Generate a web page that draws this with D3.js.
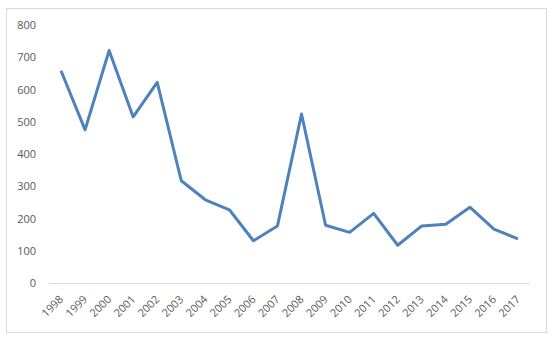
<!DOCTYPE html>
<html>
<head>
<meta charset="utf-8">
<script src="https://cdn.jsdelivr.net/npm/d3@7"></script>
<style>
  body { margin: 0; background: #fff; }
  text { font-family: "Open Sans", "Liberation Sans", sans-serif; fill: #595959; }
</style>
</head>
<body>
<svg id="chart"></svg>
<script>
// chart data
const years = ["1998", "1999", "2000", "2001", "2002", "2003", "2004", "2005", "2006", "2007",
  "2008", "2009", "2010", "2011", "2012", "2013", "2014", "2015", "2016", "2017"];
const values = [658, 475, 721, 515, 622, 317, 258, 227, 131, 177,
  524, 179, 157, 216, 117, 177, 182, 235, 167, 137];
const yTicks = [0, 100, 200, 300, 400, 500, 600, 700, 800];

const W = 552, H = 343;
const margin = { top: 25, right: 22, bottom: 60, left: 49 },
  width = 530 - margin.left,
  height = 283 - margin.top;

const svg = d3.select("#chart")
  .attr("width", W)
  .attr("height", H);

// outer frame
svg.append("rect")
  .attr("x", 6.5).attr("y", 8.5)
  .attr("width", 540).attr("height", 324)
  .attr("fill", "#fff")
  .attr("stroke", "#d9d9d9")
  .attr("stroke-width", 1);

const g = svg.append("g")
  .attr("transform", "translate(" + margin.left + "," + margin.top + ")");

const x = d3.scaleBand().domain(years).range([0, width]);
const y = d3.scaleLinear().domain([0, 800]).range([height, 0]);

// Y axis labels
const yAxis = d3.axisLeft(y).tickValues(yTicks).tickSize(0).tickPadding(13);
g.append("g")
  .call(yAxis)
  .call(a => a.select(".domain").remove())
  .selectAll("text")
  .attr("font-size", 11)
  .style("fill", "#595959");

// baseline
g.append("line")
  .attr("x1", 0).attr("x2", width)
  .attr("y1", y(0) + 0.5).attr("y2", y(0) + 0.5)
  .attr("stroke", "#d9d9d9");

// X axis labels
const xAxis = d3.axisBottom(x).tickSize(0).tickPadding(0);
g.append("g")
  .attr("transform", "translate(0," + height + ")")
  .call(xAxis)
  .call(a => a.select(".domain").remove())
  .selectAll("text")
  .attr("font-size", 11)
  .style("fill", "#595959")
  .attr("text-anchor", "end")
  .attr("dy", 0)
  .attr("y", 0)
  .attr("transform", "translate(3,17) rotate(-45)");

// line
g.append("path")
  .datum(values)
  .attr("fill", "none")
  .attr("stroke", "#4f81bd")
  .attr("stroke-width", 3)
  .attr("stroke-linejoin", "round")
  .attr("d", d3.line()
    .x((d, i) => x(years[i]) + x.bandwidth() / 2)
    .y(d => y(d)));
</script>
</body>
</html>
